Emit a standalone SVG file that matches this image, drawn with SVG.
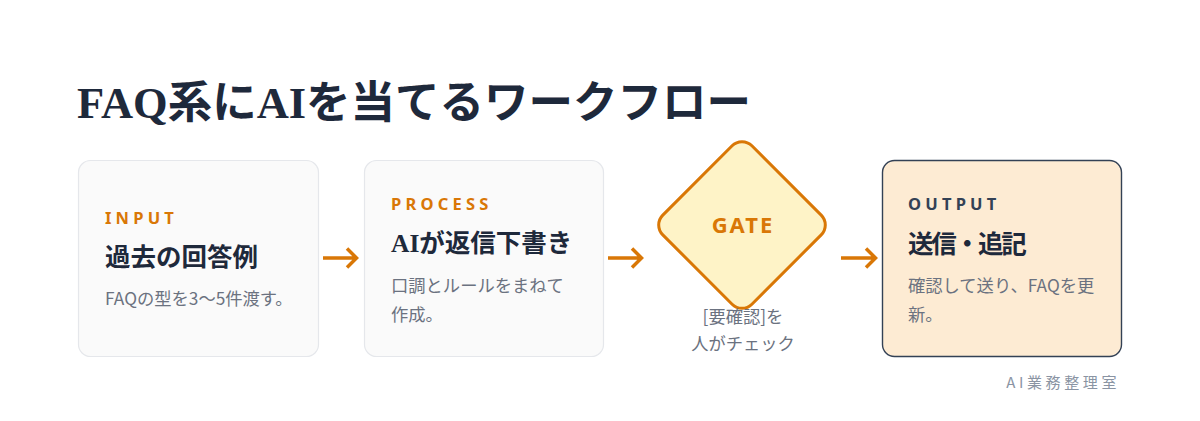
<svg xmlns="http://www.w3.org/2000/svg" width="1200" height="421" viewBox="0 0 1200 421">
<defs>
<style>
.title{font-family:"Liberation Serif","Noto Sans CJK JP",serif;font-weight:700;font-size:44.5px;fill:#1e293b;}
.box{fill:#fafafa;stroke:#e5e7eb;stroke-width:1.2;}
.out{fill:#fdebd3;stroke:#334155;stroke-width:1.4;}
.tag{font-family:"Noto Sans","Noto Sans CJK JP",sans-serif;font-weight:700;font-size:16.5px;letter-spacing:4.2px;fill:#d97706;}
.tagd{fill:#334155;}
.head{font-family:"Liberation Serif","Noto Sans CJK JP",serif;font-weight:700;font-size:25.5px;fill:#1e293b;}
.tight{letter-spacing:-2.2px;}
.desc{font-family:"Noto Sans CJK JP","Noto Sans",sans-serif;font-size:17.3px;fill:#6b7280;}
.conn{fill:none;stroke:#d97706;stroke-width:3.5;stroke-linecap:butt;stroke-linejoin:miter;}
.gate{fill:#fef3c7;stroke:#d97706;stroke-width:3;}
.gtxt{font-family:"Noto Sans","Noto Sans CJK JP",sans-serif;font-weight:700;font-size:22px;letter-spacing:2px;fill:#d97706;}
.foot{font-family:"Noto Sans CJK JP","Noto Sans",sans-serif;font-size:15px;letter-spacing:3.6px;fill:#8a94a3;}
</style>
</defs>
<rect width="1200" height="421" fill="#ffffff"/>
<text class="title" x="77" y="118">FAQ系にAIを当てるワークフロー</text>

<g id="connectors">
<path class="conn" d="M323 258 H356 M347 248.5 L356.5 258 L347 267.5"/>
<path class="conn" d="M608 258 H641 M632 248.5 L641.5 258 L632 267.5"/>
<path class="conn" d="M841 258 H875 M866 248.5 L875.5 258 L866 267.5"/>
</g>

<g id="input">
<rect class="box" x="78.5" y="160.5" width="240" height="196" rx="12"/>
<text class="tag" x="105" y="224">INPUT</text>
<text class="head" x="105" y="266">過去の回答例</text>
<text class="desc" x="105" y="305">FAQの型を3〜5件渡す。</text>
</g>

<g id="process">
<rect class="box" x="364.5" y="160.5" width="239" height="196" rx="12"/>
<text class="tag" x="391" y="210">PROCESS</text>
<text class="head" x="391" y="252">AIが返信下書き</text>
<text class="desc" x="391" y="292">口調とルールをまねて</text>
<text class="desc" x="391" y="321">作成。</text>
</g>

<g id="gate">
<rect class="gate" x="679" y="162" width="126" height="126" rx="14" transform="rotate(45 742 225)"/>
<text class="gtxt" x="743" y="233" text-anchor="middle">GATE</text>
<text class="desc" x="743" y="323" text-anchor="middle">[要確認]を</text>
<text class="desc" x="743" y="350" text-anchor="middle">人がチェック</text>
</g>

<g id="output">
<rect class="out" x="882.5" y="160.5" width="239" height="196" rx="12"/>
<text class="tag tagd" x="908" y="210">OUTPUT</text>
<text class="head tight" x="908" y="253">送信・追記</text>
<text class="desc" x="908" y="292">確認して送り、FAQを更</text>
<text class="desc" x="908" y="321">新。</text>
</g>

<text class="foot" x="1120" y="388" text-anchor="end">AI業務整理室</text>
</svg>
